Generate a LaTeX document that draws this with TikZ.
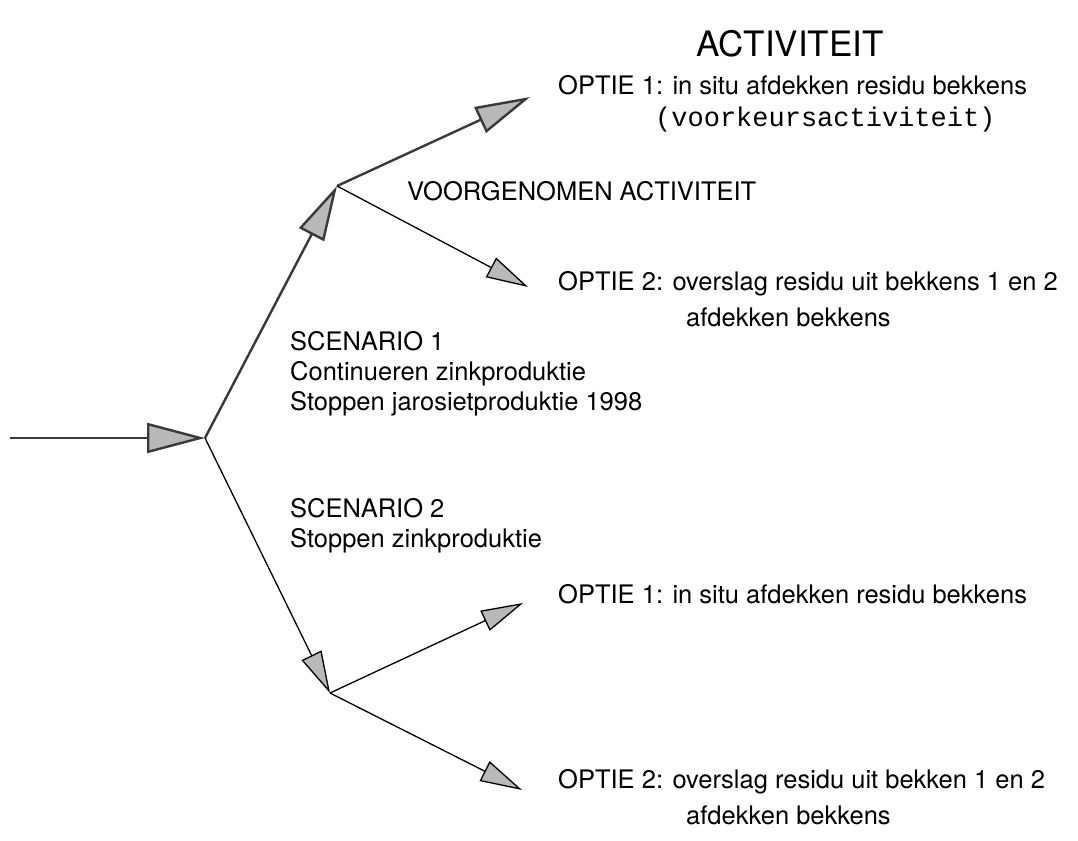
\documentclass[tikz,border=0pt]{standalone}
\usepackage{fontspec}
\setmainfont{TeX Gyre Heros}
\setmonofont{Liberation Mono}
\usetikzlibrary{arrows.meta,positioning}

\begin{document}
\begin{tikzpicture}[x=1pt, y=-1pt,
  bigarrow/.style={-{Triangle[length=58pt,width=30pt,fill=gray!55]}, line width=2.4pt, draw=gray!45!black},
  smallarrow/.style={-{Triangle[length=42pt,width=22pt,fill=gray!55]}, line width=1.3pt},
  label/.style={anchor=base west, inner sep=0pt, font=\fontsize{25.5}{30}\selectfont}]
\useasboundingbox (0,0) rectangle (1078,840);
% branch points
\coordinate (start) at (10,438);
\coordinate (split) at (205,438);
\coordinate (splitA) at (337,186);
\coordinate (splitB) at (330,693);
\coordinate (tipA1) at (530,97);
\coordinate (tipA2) at (528,287);
\coordinate (tipB1) at (523,603);
\coordinate (tipB2) at (522,790);
% arrows
\draw[bigarrow] (start) -- (split);
\draw[bigarrow, -{Triangle[length=55pt,width=28pt,fill=gray!55]}] (split) -- (splitA);
\draw[bigarrow, -{Triangle[length=55pt,width=28pt,fill=gray!55]}] (splitA) -- (tipA1);
\draw[smallarrow] (splitA) -- (tipA2);
\draw[smallarrow] (split) -- (splitB);
\draw[smallarrow] (splitB) -- (tipB1);
\draw[smallarrow] (splitB) -- (tipB2);
% texts
\node (title) [anchor=base, inner sep=0pt, font=\fontsize{35}{40}\selectfont] at (790,57) {ACTIVITEIT};
\node (optA1) [label] at (558,95) {OPTIE 1: in situ afdekken residu bekkens};
\node (pref) [label, font=\ttfamily\fontsize{27}{32}\selectfont] at (655,127) {(voorkeursactiviteit)};
\node (intent) [label] at (407,200) {VOORGENOMEN ACTIVITEIT};
\node (optA2) [label] at (558,290) {OPTIE 2: overslag residu uit bekkens 1 en 2};
\node (optA2b) [label] at (686,326) {afdekken bekkens};
\node (scenA) [label] at (290,350) {SCENARIO 1};
\node (scenA2) [label] at (290,380) {Continueren zinkproduktie};
\node (scenA3) [label] at (290,410) {Stoppen jarosietproduktie 1998};
\node (scenB) [label] at (290,517) {SCENARIO 2};
\node (scenB2) [label] at (290,547) {Stoppen zinkproduktie};
\node (optB1) [label] at (558,603) {OPTIE 1: in situ afdekken residu bekkens};
\node (optB2) [label] at (558,788) {OPTIE 2: overslag residu uit bekken 1 en 2};
\node (optB2b) [label] at (686,824) {afdekken bekkens};
\end{tikzpicture}
\end{document}
